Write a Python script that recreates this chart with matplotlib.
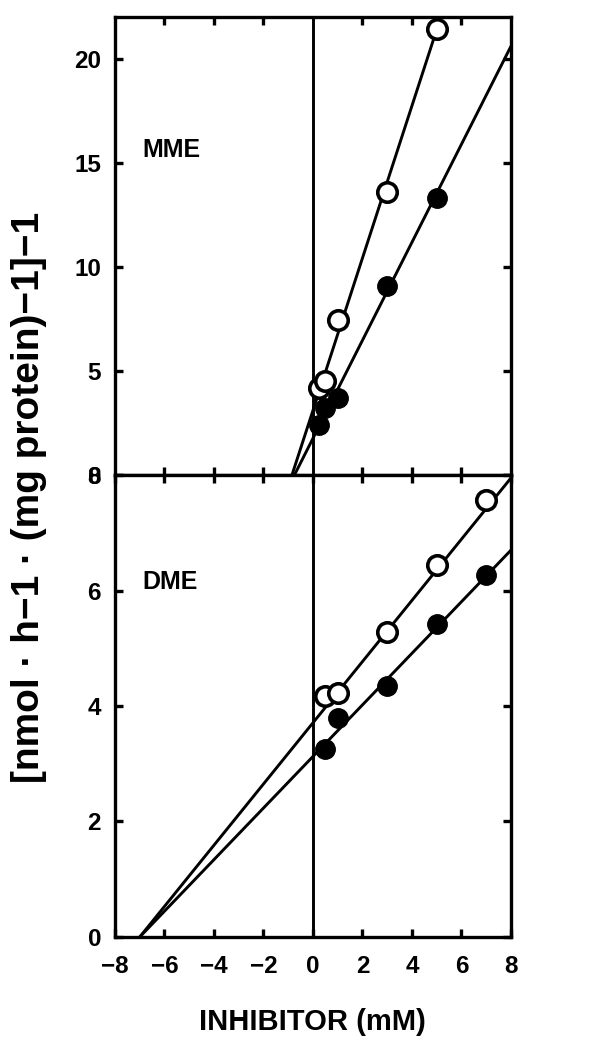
import numpy as np
import matplotlib
matplotlib.use("Agg")
import matplotlib.pyplot as plt

plt.rcParams["font.family"] = ["Liberation Sans", "DejaVu Sans"]
plt.rcParams["font.weight"] = "bold"

# ---------------- Data ----------------
# MME panel
mme_open_x = [0.25, 0.5, 1.0, 3.0, 5.0]
mme_open_y = [4.2, 4.5, 7.45, 13.6, 21.4]
mme_fill_x = [0.25, 0.5, 1.0, 3.0, 5.0]
mme_fill_y = [2.4, 3.2, 3.7, 9.1, 13.3]
mme_open_line_x = [-0.85, 5.0]
mme_open_line_y = [0.0, 21.4]
mme_fill_line_x = [-0.75, 8.0]
mme_fill_line_y = [0.0, 20.6]

# DME panel
dme_open_x = [0.5, 1.0, 3.0, 5.0, 7.0]
dme_open_y = [4.18, 4.22, 5.28, 6.45, 7.57]
dme_fill_x = [0.5, 1.0, 3.0, 5.0, 7.0]
dme_fill_y = [3.25, 3.8, 4.35, 5.42, 6.27]
dme_open_line_x = [-7.0, 8.0]
dme_open_line_y = [0.0, 7.95]
dme_fill_line_x = [-7.0, 8.0]
dme_fill_line_y = [0.0, 6.7]

x_ticks = [-8, -6, -4, -2, 0, 2, 4, 6, 8]
inner_ticks = [-6, -4, -2, 2, 4, 6]
mme_yticks = [0, 5, 10, 15, 20]
dme_yticks = [0, 2, 4, 6, 8]

# ---------------- Figure ----------------
fig = plt.figure(figsize=(6.13, 10.42), dpi=100)
ax_top = fig.add_axes([0.1876, 0.5441, 0.646, 0.4396])
ax_bot = fig.add_axes([0.1876, 0.1008, 0.646, 0.4433])

lw_spine = 2.4
lw_line = 2.1
ms = 14


def style_axis(ax):
    for sp in ax.spines.values():
        sp.set_linewidth(lw_spine)
    ax.axvline(0, color="black", lw=lw_line, zorder=1)
    ax.tick_params(axis="both", direction="in", length=6, width=2.4,
                   labelsize=17.5, pad=10)
    ax.tick_params(axis="x", pad=13)
    ax.tick_params(axis="y", right=True, left=True)


def draw(ax, lx1, ly1, lx2, ly2, ox, oy, fx, fy):
    ax.plot(lx1, ly1, color="black", lw=lw_line, solid_capstyle="butt", zorder=2)
    ax.plot(lx2, ly2, color="black", lw=lw_line, solid_capstyle="butt", zorder=2)
    ax.plot(ox, oy, "o", ms=ms, mfc="white", mec="black", mew=2.6, zorder=3)
    ax.plot(fx, fy, "o", ms=ms, mfc="black", mec="black", zorder=3)


# Top: MME
style_axis(ax_top)
draw(ax_top, mme_open_line_x, mme_open_line_y, mme_fill_line_x, mme_fill_line_y,
     mme_open_x, mme_open_y, mme_fill_x, mme_fill_y)
ax_top.set_xlim(-8, 8)
ax_top.set_ylim(0, 22)
ax_top.set_yticks(mme_yticks)
ax_top.set_xticks(inner_ticks)
ax_top.tick_params(axis="x", top=True, bottom=True, labelbottom=False)
ax_top.text(-6.9, 15.6, "MME", fontsize=18, fontweight="bold", va="center")

# Bottom: DME
style_axis(ax_bot)
draw(ax_bot, dme_open_line_x, dme_open_line_y, dme_fill_line_x, dme_fill_line_y,
     dme_open_x, dme_open_y, dme_fill_x, dme_fill_y)
ax_bot.set_xlim(-8, 8)
ax_bot.set_ylim(0, 8)
ax_bot.set_yticks(dme_yticks)
ax_bot.set_xticks(x_ticks)
ax_bot.set_xticklabels([str(t).replace("-", "\u2212") for t in x_ticks])
ax_bot.tick_params(axis="x", top=True, bottom=True)
ax_bot.text(-6.9, 6.15, "DME", fontsize=18, fontweight="bold", va="center")

fig.text(0.51, 0.019, "INHIBITOR (mM)", fontsize=21, fontweight="bold",
         ha="center", va="center")
fig.text(0.048, 0.523, "[nmol \u00b7 h\u22121 \u00b7 (mg protein)\u22121]\u22121",
         fontsize=28, fontweight="bold", rotation=90, ha="center", va="center")

fig.savefig("out.png", dpi=100)
